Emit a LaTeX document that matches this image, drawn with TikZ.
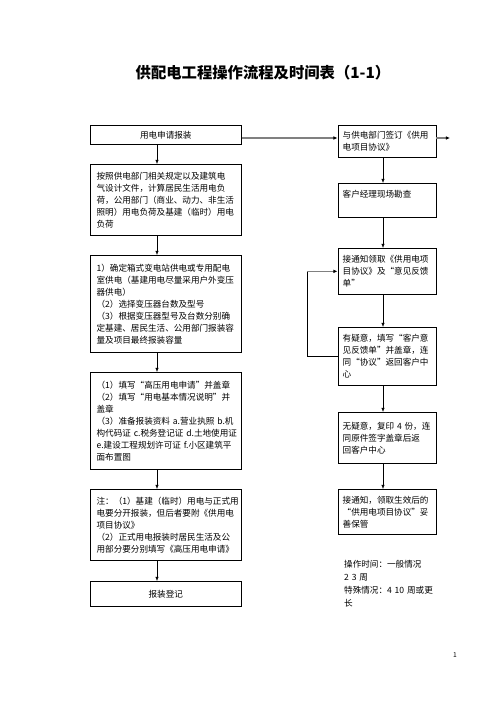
\documentclass[tikz,border=0pt]{standalone}
\usepackage{fontspec}
\setmainfont{Noto Sans CJK SC}
\usepackage{tikz}
\usetikzlibrary{calc,arrows.meta,positioning}
\tikzset{%
    apply_step/.style={%
        rectangle, draw=black, line width=0.8pt, anchor=north west, minimum width=181pt, text width=166pt, inner xsep=7.5pt, align=left, font=\fontsize{10.3}{14.4}\selectfont
    },
    supply_step/.style={%
        rectangle, draw=black, line width=0.8pt, anchor=north west, minimum width=117.6pt, text width=106pt, inner xsep=5.8pt, align=left, font=\fontsize{10.3}{14.4}\selectfont
    },
    txt/.style={%
        anchor=north west, text width=130pt, inner xsep=0pt, align=left, font=\fontsize{10.3}{15.6}\selectfont
    },
    com/.style={%
        line width=0.7pt, -{Latex[length=5pt,width=4pt]}
    },
    com_main/.style={%
        draw=gray, line width=1.5pt, -{Latex[length=5pt,width=4.5pt,color=black]}
    },
}
\begin{document}
\begin{tikzpicture}[x=1.2pt,y=-1.2pt]
    \useasboundingbox (0,0) rectangle (496,702);
    \node (title) at (263,73) {\fontsize{18.4}{21}\selectfont\bfseries 供配电工程操作流程及时间表（1-1）};

    % application side
    \node[apply_step, minimum height=22.8pt, align=center] (l1) at (90,125) {用电申请报装};
    \node[apply_step, minimum height=85.2pt] (l2) at (90,164) {按照供电部门相关规定以及建筑电\\气设计文件，计算居民生活用电负\\荷，公用部门（商业、动力、非生活\\照明）用电负荷及基建（临时）用电\\负荷};
    \node[apply_step, minimum height=116.4pt] (l3) at (90,255) {1）确定箱式变电站供电或专用配电\\室供电（基建用电尽量采用户外变压\\器供电）\\（2）选择变压器台数及型号\\（3）根据变压器型号及台数分别确\\定基建、居民生活、公用部门报装容\\量及项目最终报装容量};
    \node[apply_step, minimum height=116.4pt] (l4) at (90,372) {（1）填写“高压用电申请”并盖章\\（2）填写“用电基本情况说明”并\\盖章\\（3）准备报装资料~a.营业执照~b.机\\构代码证~c.税务登记证~d.土地使用证\\e.建设工程规划许可证~f.小区建筑平\\面布置图};
    \node[apply_step, minimum height=85.2pt] (l5) at (90,489) {注：（1）基建（临时）用电与正式用\\电要分开报装，但后者要附《供用电\\项目协议》\\（2）正式用电报装时居民生活及公\\用部分要分别填写《高压用电申请》};
    \node[apply_step, minimum height=30pt, align=center] (l6) at (90,581) {报装登记};

    % supply side
    \node[supply_step, minimum height=38.4pt] (r1) at (337.5,125) {与供电部门签订《供用\\电项目协议》};
    \node[supply_step, minimum height=40.8pt] (r2) at (337.5,183) {客户经理现场勘查\\~};
    \node[supply_step, minimum height=55.2pt] (r3) at (337.5,248) {接通知领取《供用电项\\目协议》及“意见反馈\\单”};
    \node[supply_step, minimum height=69.6pt] (r4) at (337.5,327) {有疑意，填写“客户意\\见反馈单”并盖章，连\\同“协议”返回客户中\\心};
    \node[supply_step, minimum height=61.2pt] (r5) at (337.5,412) {无疑意，复印~4~份，连\\同原件签字盖章后返\\回客户中心};
    \node[supply_step, minimum height=54pt] (r6) at (337.5,489) {接通知，领取生效后的\\“供用电项目协议”妥\\善保管};

    \node[txt] (note) at (344,557) {操作时间：一般情况\\2~3~周\\特殊情况：4~10~周或更\\长};
    \node[font=\fontsize{8}{9}\selectfont] (pagenum) at (455,655) {1};

    \coordinate (lx) at (157,0);
    \coordinate (rx) at (383,0);
    \coordinate (fb) at (307,0);
    \coordinate (mid) at (0,138);
    \coordinate (out) at (450,138);

    \foreach \a/\b in {l1/l2,l2/l3,l3/l4,l4/l5,l5/l6}
        \draw[com] (\a.south -| lx) -- (\b.north -| lx);

    \foreach \a/\b in {r1/r2,r2/r3,r3/r4,r4/r5,r5/r6}
        \draw[com] (\a.south -| rx) -- (\b.north -| rx);

    \draw[com_main] (l1.east |- mid) -- (r1.west |- mid);
    \draw[com_main] (r1.east |- mid) -- (out);
    \draw[line width=0.7pt] (r4.west) -- (r4.west -| fb) -- (r3.west -| fb);
    \draw[com_main] (r3.west -| fb) -- (r3.west);

  \end{tikzpicture}
\end{document}
